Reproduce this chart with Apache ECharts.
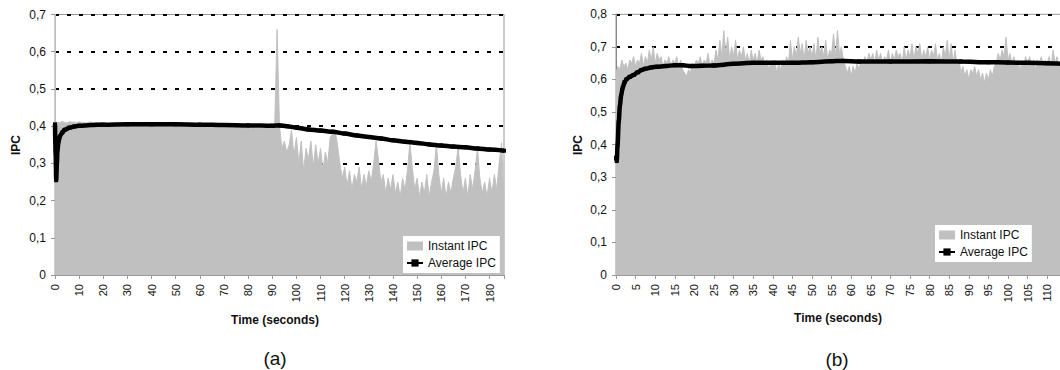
<!DOCTYPE html>
<html>
<head>
<meta charset="utf-8">
<script src="https://cdn.jsdelivr.net/npm/echarts@6/dist/echarts.min.js"></script>
<style>
  html, body { margin: 0; padding: 0; background: #fff; }
  #chart { width: 1060px; height: 370px; }
</style>
</head>
<body>
<div id="chart"></div>
<script>
// sample spacing (seconds) of the instant IPC traces
const STEP_A = 1;
const STEP_B = 0.5;

// (a) instant IPC, one value per second, t = 0..186
const instantA = [
  0.41,
  0.41, 0.41, 0.412, 0.41, 0.408, 0.412, 0.41, 0.411, 0.409, 0.412,
  0.41, 0.41, 0.408, 0.411, 0.41, 0.409, 0.41, 0.408, 0.41, 0.407,
  0.405, 0.404, 0.406, 0.405, 0.404, 0.405, 0.406, 0.404, 0.405, 0.405,
  0.404, 0.405, 0.406, 0.405, 0.404, 0.405, 0.405, 0.404, 0.406, 0.405,
  0.405, 0.404, 0.405, 0.406, 0.404, 0.405, 0.405, 0.404, 0.405, 0.404,
  0.404, 0.405, 0.403, 0.404, 0.405, 0.403, 0.404, 0.404, 0.403, 0.402,
  0.402, 0.401, 0.400, 0.401, 0.399, 0.400, 0.398, 0.399, 0.397, 0.398,
  0.397, 0.396, 0.398, 0.395, 0.397, 0.396, 0.395, 0.396, 0.394, 0.395,
  0.394, 0.396, 0.393, 0.395, 0.394, 0.393, 0.395, 0.394, 0.396, 0.398,
  0.40, 0.66, 0.40,
  0.34, 0.36, 0.33, 0.35, 0.39, 0.32, 0.37, 0.30, 0.36, 0.28,
  0.34, 0.31, 0.36, 0.29, 0.35, 0.30, 0.34, 0.28, 0.33, 0.30,
  0.37, 0.38, 0.39, 0.35, 0.30, 0.26, 0.29, 0.24, 0.28, 0.23,
  0.27, 0.25, 0.29, 0.23, 0.27, 0.24, 0.28, 0.25, 0.30, 0.36,
  0.31, 0.25, 0.27, 0.22, 0.26, 0.23, 0.27, 0.22, 0.25, 0.21,
  0.26, 0.23, 0.28, 0.355, 0.29, 0.23, 0.26, 0.21, 0.25, 0.22,
  0.27, 0.21, 0.25, 0.28, 0.35, 0.27, 0.22, 0.26, 0.21, 0.25,
  0.22, 0.26, 0.29, 0.345, 0.27, 0.22, 0.26, 0.21, 0.27, 0.23,
  0.28, 0.34, 0.26, 0.22, 0.25, 0.21, 0.26, 0.22, 0.27, 0.23,
  0.30, 0.355, 0.20
];

// (a) average IPC, [seconds, ipc]
const averageA = [
  [0, 0.405], [0.25, 0.33], [0.5, 0.255], [0.8, 0.30], [1, 0.335], [1.5, 0.36],
  [2, 0.372], [3, 0.383], [4, 0.39], [6, 0.396], [8, 0.399], [10, 0.401],
  [15, 0.403], [20, 0.404], [30, 0.405], [40, 0.405], [50, 0.405], [60, 0.404],
  [70, 0.403], [80, 0.402], [90, 0.401], [93, 0.402], [96, 0.400], [100, 0.396],
  [105, 0.391], [110, 0.388], [115, 0.385], [120, 0.38], [125, 0.375], [130, 0.371],
  [135, 0.367], [140, 0.362], [145, 0.358], [150, 0.355], [155, 0.351], [160, 0.348],
  [165, 0.345], [170, 0.343], [175, 0.34], [180, 0.337], [186, 0.334]
];

// (b) instant IPC, one value per half second, t = 0..120
const instantB = [
  0.62, 0.64, 0.63, 0.66, 0.64, 0.65, 0.63, 0.66, 0.65, 0.67,
  0.64, 0.66, 0.65, 0.68, 0.64, 0.67, 0.65, 0.69, 0.66, 0.70,
  0.65, 0.68, 0.66, 0.67, 0.64, 0.66, 0.65, 0.67, 0.64, 0.66,
  0.65, 0.67, 0.64, 0.66, 0.63, 0.62, 0.61, 0.63, 0.62, 0.65,
  0.64, 0.66, 0.65, 0.67, 0.64, 0.66, 0.65, 0.68, 0.64, 0.66,
  0.65, 0.69, 0.66, 0.72, 0.67, 0.75, 0.68, 0.73, 0.66, 0.70,
  0.67, 0.72, 0.66, 0.69, 0.67, 0.70, 0.66, 0.68, 0.65, 0.69,
  0.66, 0.68, 0.65, 0.69, 0.66, 0.67, 0.64, 0.66, 0.63, 0.65,
  0.64, 0.66, 0.62, 0.65, 0.63, 0.66, 0.64, 0.67, 0.65, 0.72,
  0.66, 0.70, 0.67, 0.73, 0.68, 0.71, 0.66, 0.72, 0.68, 0.70,
  0.67, 0.71, 0.66, 0.73, 0.68, 0.70, 0.67, 0.72, 0.66, 0.69,
  0.68, 0.74, 0.67, 0.75, 0.68, 0.70, 0.66, 0.64, 0.62, 0.64,
  0.61, 0.64, 0.62, 0.65, 0.63, 0.66, 0.64, 0.67, 0.65, 0.68,
  0.66, 0.68, 0.65, 0.69, 0.66, 0.68, 0.65, 0.67, 0.66, 0.69,
  0.65, 0.68, 0.66, 0.69, 0.67, 0.68, 0.65, 0.70, 0.66, 0.69,
  0.67, 0.71, 0.66, 0.70, 0.68, 0.71, 0.66, 0.69, 0.67, 0.70,
  0.66, 0.69, 0.67, 0.71, 0.66, 0.68, 0.65, 0.70, 0.67, 0.72,
  0.66, 0.71, 0.65, 0.69, 0.64, 0.66, 0.62, 0.64, 0.61, 0.63,
  0.60, 0.63, 0.62, 0.64, 0.61, 0.63, 0.60, 0.62, 0.59, 0.62,
  0.60, 0.63, 0.61, 0.64, 0.65, 0.68, 0.66, 0.69, 0.67, 0.73,
  0.66, 0.68, 0.65, 0.67, 0.64, 0.66, 0.63, 0.65, 0.64, 0.67,
  0.65, 0.67, 0.64, 0.66, 0.63, 0.66, 0.65, 0.67, 0.64, 0.66,
  0.65, 0.67, 0.64, 0.69, 0.65, 0.67, 0.64, 0.66, 0.65, 0.67,
  0.64, 0.66, 0.65, 0.67, 0.64, 0.66, 0.65, 0.67, 0.64, 0.66,
  0.65
];

// (b) average IPC, [seconds, ipc]
const averageB = [
  [0, 0.36], [0.2, 0.35], [0.4, 0.40], [0.7, 0.47], [1, 0.52], [1.3, 0.55],
  [1.7, 0.575], [2.2, 0.592], [2.7, 0.601], [3.5, 0.608], [4.5, 0.614], [5.5, 0.622],
  [6.5, 0.629], [7.5, 0.633], [9, 0.637], [10.5, 0.639], [12.5, 0.641], [15, 0.644],
  [17, 0.644], [19, 0.641], [22, 0.642], [25, 0.643], [30, 0.648], [35, 0.651],
  [40, 0.651], [45, 0.651], [50, 0.653], [55, 0.656], [58, 0.657], [62, 0.655],
  [70, 0.655], [80, 0.656], [88, 0.655], [95, 0.653], [100, 0.652], [105, 0.651],
  [110, 0.65], [115, 0.648], [120, 0.646]
];

const FONT = '"Liberation Sans", Arial, sans-serif';
const GREY = '#c0c0c0';

const ipcLabel = (v) => (v === 0 ? '0' : v.toFixed(1).replace('.', ','));

// lastLabel: highest tick that still gets a label (the (b) panel runs off the page)
function xAxisFor(gridIndex, max, interval, lastLabel) {
  return {
    type: 'value', gridIndex, min: 0, max, interval, z: 3,
    axisLine: { show: true, lineStyle: { color: '#999', width: 1 } },
    axisTick: { show: true, length: 4, lineStyle: { color: '#999' } },
    axisLabel: {
      rotate: 90, margin: 9, fontSize: 11, color: '#111', fontFamily: FONT,
      formatter: (v) => (v % interval === 0 && v <= lastLabel ? String(v) : '')
    },
    splitLine: { show: false }
  };
}

function yAxisFor(gridIndex, max, lineColor) {
  return {
    type: 'value', gridIndex, min: 0, max, interval: 0.1,
    axisLine: { show: true, lineStyle: { color: lineColor, width: 1 } },
    axisTick: { show: true, length: 4, lineStyle: { color: '#999' } },
    axisLabel: { margin: 9, fontSize: 12, color: '#111', fontFamily: FONT, formatter: ipcLabel },
    splitLine: { show: true, lineStyle: { color: '#000', width: 2, type: [4, 8] } }
  };
}

function instantSeries(idx, values, step) {
  return {
    name: 'Instant IPC', type: 'line', xAxisIndex: idx, yAxisIndex: idx,
    data: values.map((v, i) => [i * step, v]),
    showSymbol: false, symbol: 'none', z: 2,
    lineStyle: { color: GREY, width: 1 },
    itemStyle: { color: GREY },
    areaStyle: { color: GREY, opacity: 1 }
  };
}

function averageSeries(idx, points) {
  return {
    name: 'Average IPC', type: 'line', xAxisIndex: idx, yAxisIndex: idx,
    data: points, smooth: 0.3, smoothMonotone: 'x',
    symbol: 'rect', symbolSize: 4, showSymbol: true, z: 4,
    lineStyle: { color: '#000', width: 4.5 },
    itemStyle: { color: '#000' }
  };
}

function legendAt(left, top) {
  return {
    orient: 'vertical', left, top, selectedMode: false,
    backgroundColor: '#fff', padding: [3, 4, 3, 3], itemGap: 3,
    itemWidth: 16, itemHeight: 9,
    textStyle: { fontSize: 12, color: '#111', fontFamily: FONT, lineHeight: 14 },
    data: [{ name: 'Instant IPC', icon: 'rect' }, 'Average IPC']
  };
}

function label(text, x, y, font, rotation) {
  return {
    type: 'text', x, y, rotation: rotation || 0, silent: true,
    style: { text, font, fill: '#111', align: 'center', verticalAlign: 'middle' }
  };
}

const chart = echarts.init(document.getElementById('chart'), null, { renderer: 'svg' });

chart.setOption({
  animation: false,
  backgroundColor: '#fff',
  textStyle: { fontFamily: FONT },
  grid: [
    { left: 55, top: 14.5, width: 449, height: 260.5, show: true, borderColor: '#999', borderWidth: 1,
      containLabel: false, outerBoundsMode: 'none' },
    { left: 616, top: 14.3, width: 470.4, height: 260.7, show: true, borderColor: '#999', borderWidth: 1,
      containLabel: false, outerBoundsMode: 'none' }
  ],
  xAxis: [xAxisFor(0, 186, 10, 180), xAxisFor(1, 120, 5, 110)],
  yAxis: [yAxisFor(0, 0.7, GREY), yAxisFor(1, 0.8, '#888')],
  legend: [legendAt(403, 236), legendAt(935, 225)],
  graphic: [
    label('IPC', 15.5, 145, 'bold 12px ' + FONT, Math.PI / 2),
    label('IPC', 578, 145, 'bold 12px ' + FONT, Math.PI / 2),
    label('Time (seconds)', 275, 320, 'bold 12px ' + FONT),
    label('Time (seconds)', 838, 318, 'bold 12px ' + FONT),
    label('(a)', 275, 358, '19px ' + FONT),
    label('(b)', 837, 359, '19px ' + FONT)
  ],
  series: [
    instantSeries(0, instantA, STEP_A),
    averageSeries(0, averageA),
    instantSeries(1, instantB, STEP_B),
    averageSeries(1, averageB)
  ]
});
</script>
</body>
</html>
